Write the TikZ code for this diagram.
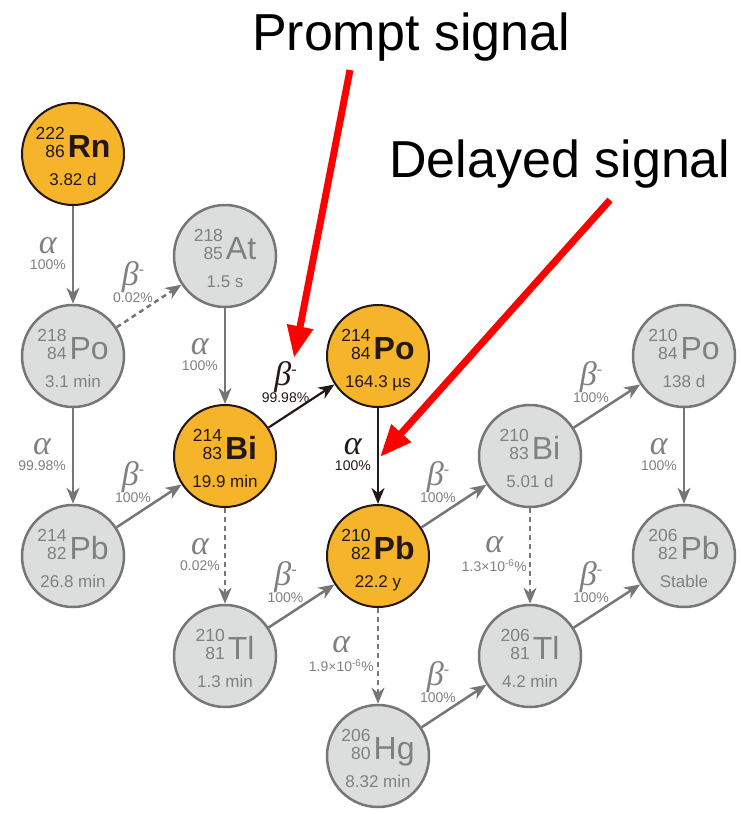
\documentclass[tikz,border=0pt]{standalone}
\usepackage{fontspec}
\setmainfont{Liberation Sans}
\newfontfamily\grk{Liberation Serif}
\usetikzlibrary{arrows.meta,calc}
\definecolor{nucfill}{RGB}{220,221,221}
\definecolor{nucline}{RGB}{118,118,118}
\definecolor{nuctext}{RGB}{128,128,128}
\definecolor{hotfill}{RGB}{246,180,42}
\definecolor{hotline}{RGB}{35,24,21}
\definecolor{arrgray}{RGB}{118,118,118}
\tikzset{
 nucgray/.style={circle,minimum size=102pt,inner sep=0pt,draw=nucline,fill=nucfill,line width=2.5pt},
 nuchot/.style={circle,minimum size=102pt,inner sep=0pt,draw=hotline,fill=hotfill,line width=2pt},
 decay/.style={-{Stealth[length=16pt,width=13pt,inset=5pt]},line width=2.5pt,draw=arrgray},
 decayk/.style={-{Stealth[length=16pt,width=13pt,inset=5pt]},line width=2.2pt,draw=hotline},
 minor/.style={decay,dash pattern=on 5pt off 4pt},
 signal/.style={-{Triangle[length=32pt,width=25pt]},line width=7pt,draw=red},
 bigtext/.style={anchor=base,inner sep=0pt,font=\fontsize{52}{52}\selectfont},
 lbl/.style={inner sep=0pt,align=center},
}
\newcommand\numstack[2]{{\fontsize{17.5}{17}\selectfont\begin{tabular}[b]{@{}r@{}}#1\\#2\end{tabular}}}
\newcommand\graynuc[7]{%
 \node[nucgray] (#1) at (#2,#3) {};
 \node[anchor=base,text=nuctext,inner sep=0pt] (#1-s) at (#2,#3+3) {\numstack{#4}{#5}\hspace{3pt}{\fontsize{32}{32}\selectfont #6}};
 \node[anchor=base,text=nuctext,inner sep=0pt,font=\fontsize{17}{17}\selectfont] (#1-h) at (#2,#3+31) {#7};
}
\newcommand\hotnuc[7]{%
 \node[nuchot] (#1) at (#2,#3) {};
 \node[anchor=base,text=hotline,inner sep=0pt] (#1-s) at (#2,#3+3) {\numstack{#4}{#5}\hspace{3pt}{\fontsize{32}{32}\selectfont\bfseries #6}};
 \node[anchor=base,text=hotline,inner sep=0pt,font=\fontsize{17}{17}\selectfont] (#1-h) at (#2,#3+31) {#7};
}
\newcommand\lblstack[2]{\begin{tabular}{@{}c@{}}{\grk\itshape\fontsize{34}{20}\selectfont #1}\\[3pt]{\fontsize{14}{14}\selectfont #2}\end{tabular}}
\newcommand\bminus{β\raisebox{11pt}{\fontsize{16}{16}\selectfont -}}
\begin{document}
\begin{tikzpicture}[x=1pt,y=-1pt]
\useasboundingbox (0,0) rectangle (741,814);
% nuclei
\hotnuc{rn}{73}{154}{222}{86}{Rn}{3.82 d}
\graynuc{at}{225}{256}{218}{85}{At}{1.5 s}
\graynuc{poA}{73}{356}{218}{84}{Po}{3.1 min}
\hotnuc{poB}{378}{356}{214}{84}{Po}{164.3 µs}
\graynuc{poC}{684}{356}{210}{84}{Po}{138 d}
\hotnuc{biA}{225}{456}{214}{83}{Bi}{19.9 min}
\graynuc{biB}{530}{456}{210}{83}{Bi}{5.01 d}
\graynuc{pbA}{73}{556}{214}{82}{Pb}{26.8 min}
\hotnuc{pbB}{378}{556}{210}{82}{Pb}{22.2 y}
\graynuc{pbC}{684}{556}{206}{82}{Pb}{Stable}
\graynuc{tlA}{225}{656}{210}{81}{Tl}{1.3 min}
\graynuc{tlB}{530}{656}{206}{81}{Tl}{4.2 min}
\graynuc{hg}{378}{756}{206}{80}{Hg}{8.32 min}
% decays
\draw[decay] (rn) -- (poA);
\draw[minor] (poA) -- (at);
\draw[decay] (poA) -- (pbA);
\draw[decay] (at) -- (biA);
\draw[decay] (pbA) -- (biA);
\draw[decayk] (biA) -- (poB);
\draw[minor] (biA) -- (tlA);
\draw[decayk] (poB) -- (pbB);
\draw[decay] (tlA) -- (pbB);
\draw[decay] (pbB) -- (biB);
\draw[minor] (pbB) -- (hg);
\draw[decay] (biB) -- (poC);
\draw[minor] (biB) -- (tlB);
\draw[decay] (hg) -- (tlB);
\draw[decay] (tlB) -- (pbC);
\draw[decay] (poC) -- (pbC);
% alpha labels
\node[lbl,anchor=east,text=nuctext] (l1) at ($(rn)!0.5!(poA)+(-7,0)$) {\lblstack{α}{100\%}};
\node[lbl,anchor=east,text=nuctext] (l2) at ($(poA)!0.5!(pbA)+(-7,0)$) {\lblstack{α}{99.98\%}};
\node[lbl,anchor=east,text=nuctext] (l3) at ($(at)!0.5!(biA)+(-7,0)$) {\lblstack{α}{100\%}};
\node[lbl,anchor=east,text=nuctext] (l4) at ($(biA)!0.5!(tlA)+(-5,0)$) {\lblstack{α}{0.02\%}};
\node[lbl,anchor=east,text=hotline] (l5) at ($(poB)!0.5!(pbB)+(-7,0)$) {\lblstack{α}{100\%}};
\node[lbl,anchor=east,text=nuctext] (l6) at ($(pbB)!0.5!(hg)+(-4,0)$) {\lblstack{α}{1.9×10\textsuperscript{-6}\%}};
\node[lbl,anchor=east,text=nuctext] (l7) at ($(biB)!0.5!(tlB)+(-3,0)$) {\lblstack{α}{1.3×10\textsuperscript{-6}\%}};
\node[lbl,anchor=east,text=nuctext] (l8) at ($(poC)!0.5!(pbC)+(-7,0)$) {\lblstack{α}{100\%}};
% beta labels
\node[lbl,text=nuctext] (b1) at ($(poA)!0.5!(at)+(-16,-22)$) {\lblstack{\bminus}{0.02\%}};
\node[lbl,text=nuctext] (b2) at ($(pbA)!0.5!(biA)+(-16,-22)$) {\lblstack{\bminus}{100\%}};
\node[lbl,text=hotline] (b3) at ($(biA)!0.5!(poB)+(-16,-22)$) {\lblstack{\bminus}{99.98\%}};
\node[lbl,text=nuctext] (b4) at ($(tlA)!0.5!(pbB)+(-16,-22)$) {\lblstack{\bminus}{100\%}};
\node[lbl,text=nuctext] (b5) at ($(pbB)!0.5!(biB)+(-16,-22)$) {\lblstack{\bminus}{100\%}};
\node[lbl,text=nuctext] (b6) at ($(biB)!0.5!(poC)+(-16,-22)$) {\lblstack{\bminus}{100\%}};
\node[lbl,text=nuctext] (b7) at ($(hg)!0.5!(tlB)+(-16,-22)$) {\lblstack{\bminus}{100\%}};
\node[lbl,text=nuctext] (b8) at ($(tlB)!0.5!(pbC)+(-16,-22)$) {\lblstack{\bminus}{100\%}};
% signals
\node[bigtext] (prompt) at (411,50) {Prompt signal};
\node[bigtext] (delayed) at (560,177) {Delayed signal};
\coordinate (pS) at (350,70);
\coordinate (pE) at (294,358);
\coordinate (dS) at (610,200);
\coordinate (dE) at (380,457);
\draw[signal] (pS) -- (pE);
\draw[signal] (dS) -- (dE);
\end{tikzpicture}
\end{document}
